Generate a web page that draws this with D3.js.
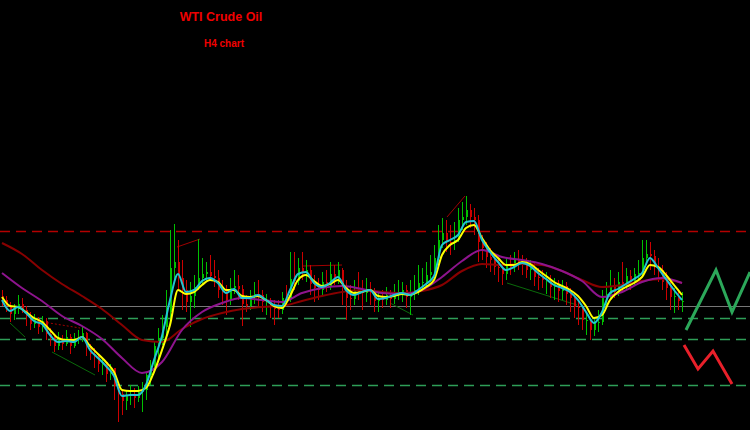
<!DOCTYPE html>
<html>
<head>
<meta charset="utf-8">
<script src="https://cdn.jsdelivr.net/npm/d3@7"></script>
<style>
  html, body { margin: 0; background: #000; overflow: hidden; }
</style>
</head>
<body>
<div id="chart"></div>
<script>
// price in points, one bar per H4 candle
const firstOpen = 134;
const closes = [130,124,116,121,126,120,114,106,111,103,
  109,96,94,84,91,86,93,84,92,93,
  97,84,76,74,66,68,56,62,44,36,
  29,34,36,32,38,40,55,62,84,92,
  103,118,162,168,152,140,128,134,143,152,
  156,158,154,152,140,138,130,142,144,141,
  126,124,134,136,135,128,130,124,121,120,
  132,131,151,149,162,158,160,146,142,140,
  148,144,156,151,160,143,132,131,140,138,
  137,140,139,129,131,130,135,131,138,138,
  140,133,137,140,147,148,155,158,172,190,
  197,188,187,190,210,213,220,213,210,188,
  182,173,170,163,162,156,164,163,170,168,
  167,160,162,153,152,150,150,143,146,139,
  144,136,132,123,122,110,110,100,107,108,
  132,136,144,138,148,146,154,148,156,157,
  172,176,174,163,160,148,142,133,134,129,
  129];
const highs = [140,134,128,126,135,132,124,118,116,113,
  114,112,102,96,98,95,100,96,97,100,
  104,98,86,82,76,72,68,66,62,48,
  40,40,45,42,44,48,58,70,88,102,
  115,140,200,206,190,170,150,148,155,191,
  172,168,175,170,160,150,145,152,160,155,
  145,135,140,148,150,140,136,132,130,130,
  138,145,178,178,172,178,170,165,155,152,
  158,160,168,165,168,162,150,145,150,158,
  150,152,148,142,138,140,143,140,146,150,
  148,145,150,155,165,162,168,175,185,205,
  212,210,205,208,222,228,234,226,222,215,
  195,188,182,176,172,168,172,175,178,180,
  175,172,170,168,162,160,158,155,152,150,
  150,148,142,136,130,124,118,112,112,120,
  140,148,160,152,158,168,162,160,162,170,
  190,190,188,180,172,165,158,148,142,140,
  138];
const lows = [124,118,108,110,116,117,104,100,102,96,
  98,90,84,78,80,80,84,76,82,86,
  88,74,70,62,58,55,48,50,30,8,
  15,20,25,22,28,18,30,45,58,72,
  85,95,110,150,140,120,118,103,122,140,
  145,148,150,143,132,125,115,125,136,130,
  104,118,120,126,124,118,115,112,105,112,
  116,124,128,140,145,150,148,135,128,130,
  135,138,140,145,146,125,110,120,125,130,
  120,128,125,118,118,122,125,122,126,130,
  128,122,115,130,135,140,144,148,155,165,
  182,178,175,180,188,200,205,202,195,168,
  170,162,158,155,148,145,150,155,158,160,
  155,152,150,144,140,142,136,132,130,128,
  130,125,118,112,105,100,95,90,94,98,
  105,125,130,132,134,138,140,140,144,148,
  155,165,160,155,148,140,130,120,117,120,
  118];

// moving averages, read every 2 bars (fast) or every 5 bars (slow)
const fastStep = 2, slowStep = 5;
const maCyan = [130,119,123,117,109,106,95,88,89,88,93,80,72,64,54,34,35,35,45,70,
  94,130,156,138,140,149,152,147,137,141,132,132,135,130,125,124,140,156,158,147,
  143,147,153,140,135,138,140,131,132,135,137,135,140,146,154,185,190,195,208,209,
  190,178,168,160,163,167,164,157,151,145,142,138,130,118,107,118,137,141,146,151,
  157,172,162,151,140,130];
const maYellow = [133,124,123,118,112,108,100,92,90,90,93,84,76,68,58,40,39,39,42,58,
  80,105,140,136,138,145,150,148,140,140,134,133,134,130,124,122,134,150,155,149,
  144,146,150,142,137,138,140,134,133,134,136,135,138,143,150,175,185,190,202,205,
  192,180,172,165,165,168,166,160,154,148,144,140,134,124,112,115,130,138,143,147,
  153,165,163,155,145,135];
const maPurple = [157,142,129,114,104,91,72,57,68,100,118,127,132,130,128,137,142,144,141,137,
  136,140,153,169,180,173,170,166,159,149,133,138,148,152,147];
const maDarkRed = [187,176,160,146,134,121,105,90,88,101,111,117,121,123,124,129,134,138,140,138,
  137,139,145,159,166,165,166,165,159,150,143,145,149,151,147];

// horizontal levels
const levelsRed = [199];
const levelsGray = [124];
const levelsGreen = [112, 91, 45];

// thin trend lines: [bar1, price1, bar2, price2]
const trendGreen = [[2, 107, 5.75, 93], [12.5, 78, 23.25, 55], [97, 127, 102.75, 115], [126.25, 147, 143.75, 125]];
const trendRed = [[43.75, 183, 49.5, 191], [111.25, 213, 115.75, 234], [75.25, 164, 85, 165]];
const trendRedDotted = [[10.25, 108, 19.5, 102]];

// projected zigzags on the right
const zigGreenBars = [171, 178.5, 182.5, 187];
const zigGreenPrices = [100, 160, 118, 158];
const zigRedBars = [170.5, 174, 177.75, 182.5];
const zigRedPrices = [85, 61, 79, 46];

const width = 750, height = 430;
const x = d3.scaleLinear().domain([0, closes.length - 1]).range([2, 682]);
const y = d3.scaleLinear().domain([0, 430]).range([height, 0]);

const svg = d3.select('#chart').append('svg')
    .attr('width', width)
    .attr('height', height)
    .style('background', '#000');

// levels
const lv = svg.append('g');
lv.selectAll('line.red').data(levelsRed).enter().append('line')
    .attr('x1', 0).attr('x2', width)
    .attr('y1', d => Math.round(y(d)) + 0.5).attr('y2', d => Math.round(y(d)) + 0.5)
    .attr('stroke', '#b40000').attr('stroke-width', 1.5).attr('stroke-dasharray', '10,6');
lv.selectAll('line.gray').data(levelsGray).enter().append('line')
    .attr('x1', 0).attr('x2', width)
    .attr('y1', d => Math.round(y(d)) + 0.5).attr('y2', d => Math.round(y(d)) + 0.5)
    .attr('stroke', '#777');
lv.selectAll('line.green').data(levelsGreen).enter().append('line')
    .attr('x1', 0).attr('x2', width)
    .attr('y1', d => Math.round(y(d)) + 0.5).attr('y2', d => Math.round(y(d)) + 0.5)
    .attr('stroke', '#2e9e57').attr('stroke-width', 1.5).attr('stroke-dasharray', '10,6');

// trend lines
const tl = svg.append('g').attr('fill', 'none');
function trend(data, color, dash) {
    tl.selectAll(null).data(data).enter().append('line')
        .attr('x1', d => x(d[0])).attr('y1', d => y(d[1]))
        .attr('x2', d => x(d[2])).attr('y2', d => y(d[3]))
        .attr('stroke', color).attr('stroke-dasharray', dash || null);
}
trend(trendGreen, '#0a6a0a');
trend(trendRed, '#a00000');
trend(trendRedDotted, '#a00000', '2,2');

// candles
const bars = closes.map((c, i) => {
    const o = i ? closes[i - 1] : firstOpen;
    return { i, o, c, h: Math.max(highs[i], o, c), l: Math.min(lows[i], o, c) };
});
const color = d => d.c >= d.o ? '#00c000' : '#cc0000';
const cg = svg.append('g');
cg.selectAll('line').data(bars).enter().append('line')
    .attr('x1', d => Math.round(x(d.i)) + 0.5).attr('x2', d => Math.round(x(d.i)) + 0.5)
    .attr('y1', d => y(d.h)).attr('y2', d => y(d.l))
    .attr('stroke', color);
cg.selectAll('rect').data(bars).enter().append('rect')
    .attr('x', d => Math.round(x(d.i)))
    .attr('width', 2)
    .attr('y', d => y(Math.max(d.o, d.c)))
    .attr('height', d => Math.max(1, Math.abs(y(d.o) - y(d.c))))
    .attr('fill', color);

// moving averages
function ma(values, step, col, w) {
    const line = d3.line()
        .x((d, k) => x(k * step))
        .y(d => y(d))
        .curve(d3.curveMonotoneX);
    svg.append('path').datum(values)
        .attr('d', line)
        .attr('fill', 'none')
        .attr('stroke', col)
        .attr('stroke-width', w);
}
ma(maDarkRed, slowStep, '#880000', 2);
ma(maPurple, slowStep, '#8e148e', 2);
ma(maYellow, fastStep, '#ffff00', 2);
ma(maCyan, fastStep, '#22c4d4', 2);

// zigzags
const zz = d3.line().x(d => x(d[0])).y(d => y(d[1]));
svg.append('path').datum(zigGreenBars.map((b, k) => [b, zigGreenPrices[k]]))
    .attr('d', zz).attr('fill', 'none').attr('stroke', '#2ca85a').attr('stroke-width', 3);
svg.append('path').datum(zigRedBars.map((b, k) => [b, zigRedPrices[k]]))
    .attr('d', zz).attr('fill', 'none').attr('stroke', '#e8202a').attr('stroke-width', 3);

// titles
svg.append('text').text('WTI Crude Oil')
    .attr('x', 221).attr('y', 21)
    .attr('text-anchor', 'middle')
    .attr('font-family', 'Liberation Sans, Arial, sans-serif')
    .attr('font-weight', 'bold').attr('font-size', 12.5)
    .attr('fill', '#f00000');
svg.append('text').text('H4 chart')
    .attr('x', 224).attr('y', 47)
    .attr('text-anchor', 'middle')
    .attr('font-family', 'Liberation Sans, Arial, sans-serif')
    .attr('font-weight', 'bold').attr('font-size', 10)
    .attr('fill', '#f00000');
</script>
</body>
</html>
